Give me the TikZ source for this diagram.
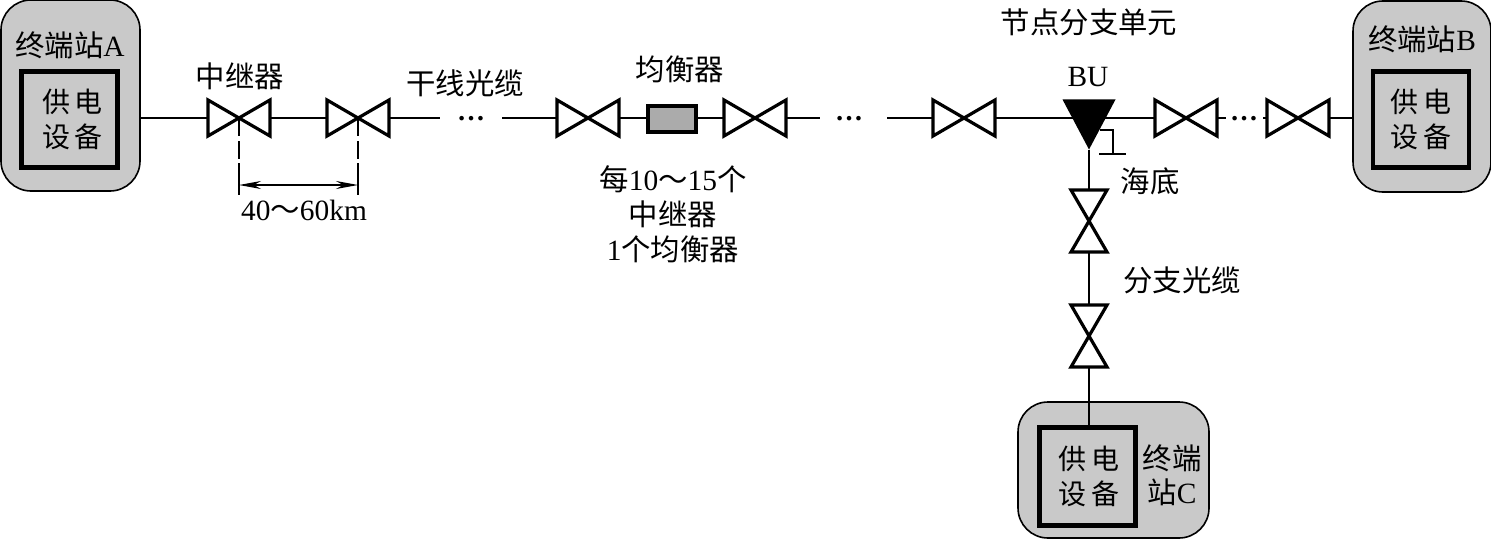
\documentclass[tikz,border=0pt]{standalone}
\usepackage{fontspec}
\setmainfont{Liberation Serif}
\newfontfamily\cjk{Noto Sans CJK SC}
\usetikzlibrary{arrows.meta}
\newcommand{\zh}[1]{{\cjk #1}}
\definecolor{stgray}{HTML}{C9C9C9}
\definecolor{eqgray}{HTML}{ABABAB}
\tikzset{
  x=.5pt,y=-.5pt,
  lbl/.style={inner sep=0pt,outer sep=0pt,font=\fontsize{14.7}{17}\selectfont,align=center},
  station/.style={draw=black,line width=.8pt,fill=stgray,rounded corners=15pt,inner sep=0pt,outer sep=0pt},
  powerbox/.style={draw=black,line width=2.2pt,inner sep=0pt,outer sep=0pt,minimum width=48pt,minimum height=48pt,font=\fontsize{14}{17.5}\selectfont,align=center},
  hv/.style={inner sep=0pt,outer sep=0pt,minimum width=31pt,minimum height=18pt},
  vv/.style={inner sep=0pt,outer sep=0pt,minimum width=18pt,minimum height=31pt},
  vline/.style={line width=1.6pt,line join=miter},
  wire/.style={line width=.8pt},
  dimline/.style={line width=.6pt},
  dots/.style={inner sep=0pt,outer sep=0pt,font=\fontsize{14}{14}\selectfont\bfseries,text height=2pt,text depth=0pt},
}
\begin{document}
\begin{tikzpicture}
\useasboundingbox (0,0) rectangle (1491,540);
% stations
\node[station,minimum width=69.5pt,minimum height=95.5pt] (stA) at (70.5,95.5) {};
\node[station,minimum width=69pt,minimum height=95.5pt] (stB) at (1422,96.5) {};
\node[station,minimum width=95.5pt,minimum height=68pt] (stC) at (1113.5,470) {};
\node[powerbox] (pA) at (69.5,119.5) {\hspace*{3pt}\zh{供\,电}\\\hspace*{3pt}\zh{设\,备}};
\node[powerbox] (pB) at (1421,119.5) {\zh{供\,电}\\\zh{设\,备}};
\node[powerbox,minimum height=49pt] (pC) at (1087.5,476.5) {\hspace*{1.5pt}\zh{供\,电}\\\hspace*{1.5pt}\zh{设\,备}};
% repeaters
\node[hv] (v1) at (239,118) {};
\node[hv] (v2) at (358,118) {};
\node[hv] (v3) at (588,118) {};
\node[hv] (v4) at (755,118) {};
\node[hv] (v5) at (964,118) {};
\node[hv] (v6) at (1186,118) {};
\node[hv] (v7) at (1298,118) {};
\node[vv] (v8) at (1089,221) {};
\node[vv] (v9) at (1089,336) {};
% equalizer
\node[draw=black,line width=2pt,fill=eqgray,inner sep=0pt,outer sep=0pt,minimum width=24pt,minimum height=13pt] (eq) at (672,119) {};
% branching unit
\node[inner sep=0pt,outer sep=0pt,minimum width=26.5pt,minimum height=25pt] (bu) at (1089,124.5) {};
% free ends and dots
\coordinate (g1) at (440,118);
\node[dots] (d1) at (471,118) {…};
\coordinate (g2) at (502,118);
\coordinate (g3) at (820,118);
\node[dots] (d2) at (849,118) {…};
\coordinate (g4) at (887,118);
\coordinate (g5) at (1226,118);
\node[dots] (d3) at (1244,118) {…};
\coordinate (g6) at (1263,118);
% wires
\draw[wire] (v1.west -| stA.east) -- (v1.west);
\draw[wire] (v1.east) -- (v2.west);
\draw[wire] (v2.east) -- (g1);
\draw[wire] (g2) -- (v3.west);
\draw[wire] (v3.east) -- (eq.west |- v3.east);
\draw[wire] (eq.east |- v4.west) -- (v4.west);
\draw[wire] (v4.east) -- (g3);
\draw[wire] (g4) -- (v5.west);
\draw[wire] (v5.east) -- (v5.east -| bu.center);
\draw[wire] (v6.west -| bu.center) -- (v6.west);
\draw[wire] (v6.east) -- (g5);
\draw[wire] (g6) -- (v7.west);
\draw[wire] (v7.east) -- (v7.east -| stB.west);
\draw[wire] (bu.south) -- (v8.north);
\draw[wire] (v8.south) -- (v9.north);
\draw[wire] (v9.south) -- (v9.south |- pC.north);
% bowties
\foreach \n in {v1,v2,v3,v4,v5,v6,v7}
  \draw[vline] (\n.north west) -- (\n.south east) -- (\n.north east) -- (\n.south west) -- cycle;
\foreach \n in {v8,v9}
  \draw[vline] (\n.north west) -- (\n.south east) -- (\n.south west) -- (\n.north east) -- cycle;
\fill[black] (bu.north west) -- (bu.north east) -- (bu.south) -- cycle;
% sea-ground
\coordinate (gA) at (1100,130);
\coordinate (gB) at (1113,130);
\coordinate (gC) at (1113,154);
\coordinate (gL) at (1099,154);
\coordinate (gR) at (1126,154);
\draw[wire] (gA) -- (gB) -- (gC);
\draw[line width=1.2pt] (gL) -- (gR);
% dimension
\coordinate (dA) at (239,163);
\coordinate (dB) at (358,163);
\coordinate (eA) at (239,195);
\coordinate (eB) at (358,195);
\coordinate (aA) at (239,185);
\coordinate (aB) at (358,185);
\draw[dimline,dash pattern=on 9pt off 2.5pt] (v1.center) -- (dA);
\draw[dimline,dash pattern=on 9pt off 2.5pt] (v2.center) -- (dB);
\draw[dimline] (dA) -- (eA);
\draw[dimline] (dB) -- (eB);
\draw[dimline,{Stealth[length=11pt,width=4pt]}-{Stealth[length=11pt,width=4pt]}] (aA) -- (aB);
% labels
\node[lbl] (tA) at (70,45) {\zh{终端站}A};
\node[lbl] (tB) at (1422,39) {\zh{终端站}B};
\node[lbl] (tC) at (1172,475) {\zh{终端}\\\zh{站}C};
\node[lbl] (t1) at (240,76) {\zh{中继器}};
\node[lbl] (t2) at (465,83) {\zh{干线光缆}};
\node[lbl] (t3) at (680,69) {\zh{均衡器}};
\node[lbl] (t4) at (304,210) {40\zh{～}60km};
\node[lbl,font=\fontsize{14.7}{17.5}\selectfont] (t5) at (673,214) {\zh{每}10\zh{～}15\zh{个}\\\zh{中继器}\\1\zh{个均衡器}};
\node[lbl] (t6) at (1089,22) {\zh{节点分支单元}};
\node[lbl] (t7) at (1088,77) {BU};
\node[lbl] (t8) at (1150,181) {\zh{海底}};
\node[lbl] (t9) at (1182,280) {\zh{分支光缆}};
\end{tikzpicture}
\end{document}
